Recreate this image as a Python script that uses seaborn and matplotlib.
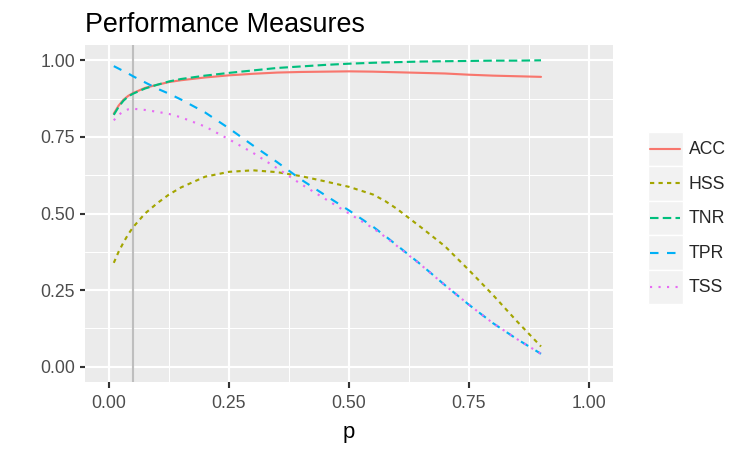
import numpy as np
import pandas as pd
import matplotlib
matplotlib.use("Agg")
import matplotlib.pyplot as plt
import seaborn as sns
from matplotlib.legend_handler import HandlerLine2D
from matplotlib.patches import Rectangle
from matplotlib.lines import Line2D

# ---- data ----
p = [0.01, 0.02, 0.03, 0.04, 0.05, 0.075, 0.10, 0.125, 0.15, 0.20, 0.25, 0.30,
     0.35, 0.40, 0.45, 0.50, 0.55, 0.575, 0.60, 0.65, 0.70, 0.75, 0.80, 0.85, 0.90]
acc = [0.826, 0.852, 0.871, 0.884, 0.893, 0.910, 0.920, 0.929, 0.935, 0.944, 0.951, 0.956,
       0.960, 0.962, 0.963, 0.964, 0.963, 0.962, 0.961, 0.959, 0.957, 0.953, 0.950, 0.948, 0.946]
hss = [0.339, 0.375, 0.405, 0.432, 0.455, 0.500, 0.533, 0.562, 0.585, 0.620, 0.636, 0.641,
       0.635, 0.622, 0.605, 0.587, 0.562, 0.541, 0.515, 0.455, 0.393, 0.315, 0.234, 0.148, 0.066]
tnr = [0.822, 0.848, 0.868, 0.882, 0.891, 0.908, 0.920, 0.931, 0.939, 0.950, 0.959, 0.967,
       0.975, 0.980, 0.985, 0.989, 0.992, 0.993, 0.994, 0.996, 0.997, 0.998, 0.999, 0.999, 1.000]
tpr = [0.981, 0.973, 0.965, 0.957, 0.948, 0.928, 0.908, 0.891, 0.872, 0.830, 0.778, 0.722,
       0.668, 0.611, 0.560, 0.510, 0.457, 0.427, 0.396, 0.333, 0.266, 0.202, 0.142, 0.090, 0.042]
tss = [0.804, 0.822, 0.833, 0.840, 0.842, 0.838, 0.832, 0.825, 0.814, 0.784, 0.742, 0.698,
       0.648, 0.596, 0.548, 0.500, 0.452, 0.424, 0.394, 0.332, 0.266, 0.202, 0.142, 0.090, 0.042]
measures = ["ACC", "HSS", "TNR", "TPR", "TSS"]
vline_p = 0.05
title = "Performance Measures"
x_label = "p"
major_ticks = [0.0, 0.25, 0.50, 0.75, 1.0]
major_labels = ["0.00", "0.25", "0.50", "0.75", "1.00"]
minor_ticks = [0.125, 0.375, 0.625, 0.875]

series = {"ACC": acc, "HSS": hss, "TNR": tnr, "TPR": tpr, "TSS": tss}
df = pd.concat([pd.DataFrame({"p": p, "value": series[m], "measure": m}) for m in measures],
               ignore_index=True)

palette = {"ACC": "#F8766D", "HSS": "#A3A500", "TNR": "#00BF7D", "TPR": "#00B0F6", "TSS": "#E76BF3"}
dashes = {"ACC": "", "HSS": (2, 2), "TNR": (4, 2), "TPR": (4, 4), "TSS": (1, 3)}

sns.set_theme(style="darkgrid")
plt.rcParams["font.family"] = ["Liberation Sans", "DejaVu Sans"]

LW = 1.53
fig = plt.figure(figsize=(7.5, 4.5), dpi=100)
ax = fig.add_axes([85 / 750, 1 - 382 / 450, 528 / 750, 337 / 450])
ax.set_facecolor("#EBEBEB")

ax.axvline(vline_p, color="#BEBEBE", lw=LW, zorder=1.5)
sns.lineplot(data=df, x="p", y="value", hue="measure", style="measure",
             hue_order=measures, style_order=measures, palette=palette,
             dashes=dashes, linewidth=LW, ax=ax)

ax.set_xlim(-0.05, 1.05)
ax.set_ylim(-0.05, 1.05)
ax.set_xticks(major_ticks)
ax.set_xticklabels(major_labels)
ax.set_yticks(major_ticks)
ax.set_yticklabels(major_labels)
ax.set_xticks(minor_ticks, minor=True)
ax.set_yticks(minor_ticks, minor=True)
ax.set_axisbelow(True)
ax.grid(which="major", color="white", lw=LW)
ax.grid(which="minor", color="white", lw=LW / 2)
ax.tick_params(which="major", bottom=True, left=True, length=3.96, width=LW,
               color="#333333", labelcolor="#4D4D4D", labelsize=12.7)
ax.tick_params(axis="x", which="major", pad=5.5)
ax.tick_params(axis="y", which="major", pad=3.2)
ax.tick_params(which="minor", length=0)
for s in ax.spines.values():
    s.set_visible(False)

ax.set_xlabel(x_label, fontsize=15.8, color="black", labelpad=7)
ax.set_ylabel("")
ax.set_title(title, loc="left", fontsize=19.4, color="black", pad=9)


class KeyHandler(HandlerLine2D):
    def create_artists(self, legend, orig_handle, xdescent, ydescent, width, height,
                       fontsize, trans):
        rect = Rectangle((-xdescent, -ydescent), width, height, facecolor="#F2F2F2",
                         edgecolor="white", lw=1.0, transform=trans)
        arts = list(super().create_artists(legend, orig_handle, xdescent, ydescent, width,
                                           height, fontsize, trans))
        yc = height / 2.0 - ydescent
        x0, x1 = -xdescent + 0.07 * width, -xdescent + 0.93 * width
        for a in arts:
            if isinstance(a, Line2D):
                n = len(a.get_xdata())
                if n == 2:
                    a.set_data([x0, x1], [yc, yc])
                else:
                    a.set_data(np.linspace(x0, x1, n), [yc] * n)
        return [rect] + arts


handles, labels = ax.get_legend_handles_labels()
if ax.get_legend() is not None:
    ax.get_legend().remove()
fig.legend(handles, labels, handler_map={Line2D: KeyHandler()}, loc="center left",
           bbox_to_anchor=(648 / 750, 1 - 218 / 450), frameon=False, fontsize=12.7,
           handlelength=1.96, handleheight=2.64, labelspacing=0, handletextpad=0.35,
           borderpad=0, borderaxespad=0)

fig.savefig("out.png", dpi=100, facecolor="white")
